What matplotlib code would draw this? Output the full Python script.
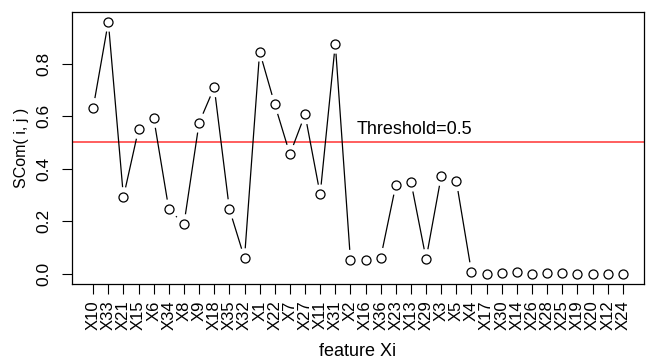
import numpy as np
import matplotlib
matplotlib.use("Agg")
import matplotlib.pyplot as plt

plt.rcParams['font.family'] = ['Liberation Sans', 'DejaVu Sans']

# feature names in plotted order
features = ["X10", "X33", "X21", "X15", "X6", "X34", "X8", "X9", "X18", "X35",
            "X32", "X1", "X22", "X7", "X27", "X11", "X31", "X2", "X16", "X36",
            "X23", "X13", "X29", "X3", "X5", "X4", "X17", "X30", "X14", "X26",
            "X28", "X25", "X19", "X20", "X12", "X24"]
# SCom(i, j) values
scom = [0.632, 0.960, 0.292, 0.551, 0.593, 0.245, 0.189, 0.575, 0.710, 0.246,
        0.059, 0.846, 0.645, 0.455, 0.607, 0.302, 0.876, 0.053, 0.053, 0.061,
        0.338, 0.350, 0.056, 0.372, 0.352, 0.006, 0.000, 0.004, 0.005, 0.000,
        0.004, 0.004, 0.000, 0.000, 0.000, 0.000]
threshold = 0.5
yticks = [0.0, 0.2, 0.4, 0.6, 0.8]

x = np.arange(1, len(features) + 1)
y = np.array(scom)

fig = plt.figure(figsize=(6.46, 3.61), dpi=100)
ax = fig.add_axes([72 / 646, 1 - 283.7 / 361, 572 / 646, 272 / 361])

# R-style 4% padding
xr = x.max() - x.min()
yr = y.max() - y.min()
ax.set_xlim(x.min() - 0.04 * xr, x.max() + 0.04 * xr)
ax.set_ylim(y.min() - 0.04 * yr, y.max() + 0.04 * yr)

ax.axhline(threshold, color="#ff3333", lw=1.1, zorder=1)

# points
ax.plot(x, y, linestyle="none", marker="o", markersize=6.5,
        markerfacecolor="white", markeredgecolor="black", markeredgewidth=0.9, zorder=3)

# type="b" lines: segments with gaps around each point
gap = 10.5  # pixels
pts = ax.transData.transform(np.column_stack([x, y]))
inv = ax.transData.inverted()
for p0, p1 in zip(pts[:-1], pts[1:]):
    d = p1 - p0
    L = np.hypot(*d)
    if L <= 2 * gap:
        continue
    u = d / L
    a, b = inv.transform([p0 + u * gap, p1 - u * gap])
    ax.plot([a[0], b[0]], [a[1], b[1]], color="black", lw=0.9, zorder=2)

ax.text(22.2, 0.548, "Threshold=0.5", ha="center", va="center", fontsize=13)

ax.set_xticks(x)
ax.set_xticklabels(features, rotation=90, fontsize=12)
ax.set_yticks(yticks)
ax.set_yticklabels([f"{v:.1f}" for v in yticks], rotation=90, va="center", fontsize=12.5)
ax.tick_params(direction="out", length=7, width=0.8)
ax.tick_params(axis="x", pad=5)
ax.tick_params(axis="y", pad=8)
ax.set_xlabel("feature Xi", fontsize=13, va="center")
ax.xaxis.set_label_coords(0.5, (283.7 - 352) / 272)
ax.set_ylabel("SCom( i, j )", fontsize=11.5, va="center")
ax.yaxis.set_label_coords((22 - 72) / 572, 0.5)
for s in ax.spines.values():
    s.set_linewidth(0.9)

fig.savefig("out.png", dpi=100)
